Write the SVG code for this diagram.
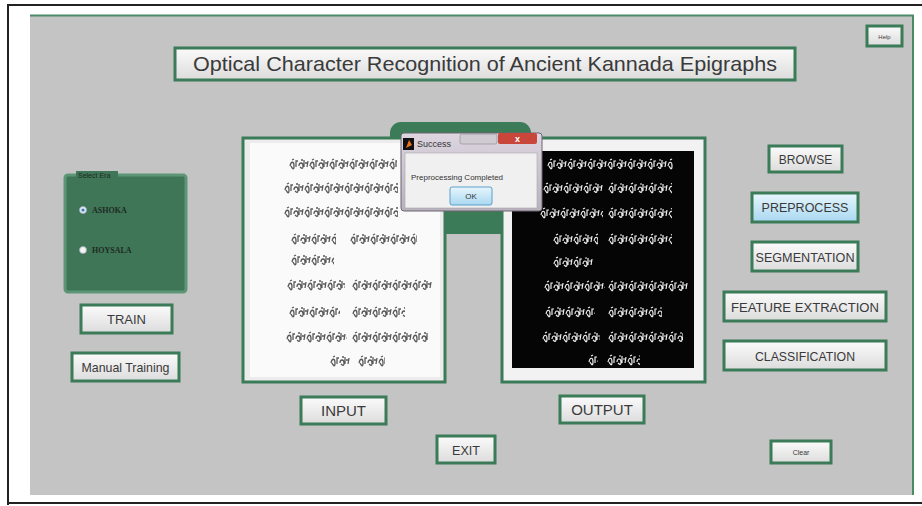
<svg xmlns="http://www.w3.org/2000/svg" width="922" height="506" viewBox="0 0 922 506">
<defs>
<style>
.btn{fill:url(#bg);stroke:#3b7b58;stroke-width:3}
.bt{font-family:"Liberation Sans",Arial,sans-serif;fill:#3a3a3a;text-anchor:middle}
.rl{font-family:"Liberation Serif","Times New Roman",serif;font-weight:bold;font-size:8px;fill:#1e2a22}
.gi{fill:url(#gl)}
.go{fill:url(#gw)}
</style>
<linearGradient id="bg" x1="0" y1="0" x2="0" y2="1"><stop offset="0" stop-color="#fbfbfb"/><stop offset="1" stop-color="#dcdcdc"/></linearGradient>
<linearGradient id="bb" x1="0" y1="0" x2="0" y2="1"><stop offset="0" stop-color="#e8f6fd"/><stop offset="1" stop-color="#a9d8f1"/></linearGradient>
<linearGradient id="tb" x1="0" y1="0" x2="0" y2="1"><stop offset="0" stop-color="#ddd6e0"/><stop offset="1" stop-color="#b9b1bd"/></linearGradient>
<pattern id="gl" width="20" height="13" patternUnits="userSpaceOnUse">
<path d="M1 9c1-5 4-5 4 0s-2 2-3 0M3 3l2-1M7 10V4h2M10 9c0-4 4-4 4 0s-2 2-3 1M12 3l2 0M15 3v7M16 6h3M18 10l1-6" fill="none" stroke="#3c3c3c" stroke-width="1.3" opacity="0.85"/>
</pattern>
<pattern id="gw" width="20" height="13" patternUnits="userSpaceOnUse">
<path d="M1 9c1-5 4-5 4 0s-2 2-3 0M3 3l2-1M7 10V4h2M10 9c0-4 4-4 4 0s-2 2-3 1M12 3l2 0M15 3v7M16 6h3M18 10l1-6" fill="none" stroke="#eeeeee" stroke-width="1.2"/>
</pattern>
</defs>
<rect width="922" height="506" fill="#ffffff"/>
<g id="frame">
<path d="M8 505V5H922M8 503H922" fill="none" stroke="#222" stroke-width="2"/>
<rect x="30" y="15" width="883" height="480" fill="#c4c4c4"/>
<path d="M30 15.5H913V495" fill="none" stroke="#4b8a66" stroke-width="2"/>
</g>
<g id="help"><rect class="btn" x="867" y="26" width="35" height="20"/><text class="bt" x="884.5" y="38.5" font-size="6">Help</text></g>
<g id="title"><rect class="btn" x="175" y="48" width="620" height="32"/><text class="bt" x="485" y="71" font-size="21" textLength="584" lengthAdjust="spacingAndGlyphs" fill="#222">Optical Character Recognition of Ancient Kannada Epigraphs</text></g>
<g id="select-era">
<rect x="65" y="175" width="121" height="117" fill="#3e7657" stroke="#5d9676" stroke-width="3" rx="3"/>
<rect x="76" y="171" width="42" height="8" fill="#3e7657"/>
<text x="78" y="178" font-family="Liberation Sans,Arial,sans-serif" font-size="7" fill="#1e2a22">Select Era</text>
<circle cx="83" cy="210" r="3.5" fill="#e8eef4" stroke="#9ab" stroke-width="0.8"/><circle cx="83" cy="210" r="1.6" fill="#3a78b8"/>
<text class="rl" x="92" y="213">ASHOKA</text>
<circle cx="83" cy="250" r="3.5" fill="#f2f2f2" stroke="#9ab" stroke-width="0.8"/>
<text class="rl" x="92" y="253">HOYSALA</text>
</g>
<g id="train"><rect class="btn" x="81" y="305" width="91" height="28"/><text class="bt" x="126.5" y="324" font-size="13">TRAIN</text></g>
<g id="manual"><rect class="btn" x="72" y="353" width="107" height="28"/><text class="bt" x="125.5" y="372" font-size="13" textLength="88" lengthAdjust="spacingAndGlyphs">Manual Training</text></g>
<g id="dialog-back"><rect x="390" y="122" width="141" height="112" rx="11" fill="#3c7b58"/></g>
<g id="input-panel">
<rect x="243" y="138" width="202" height="244" fill="#ececec" stroke="#3b7b58" stroke-width="3"/>
<rect x="250" y="143" width="190" height="234" fill="#fafafa"/>
<rect class="gi" width="108" height="13" transform="translate(289 157)"/>
<rect class="gi" width="114" height="13" transform="translate(284 181)"/>
<rect class="gi" width="114" height="13" transform="translate(284 205)"/>
<rect class="gi" width="45" height="13" transform="translate(291 232)"/><rect class="gi" width="67" height="13" transform="translate(350 232)"/>
<rect class="gi" width="43" height="13" transform="translate(291 253)"/>
<rect class="gi" width="58" height="13" transform="translate(287 278)"/><rect class="gi" width="80" height="13" transform="translate(352 278)"/>
<rect class="gi" width="51" height="13" transform="translate(289 305)"/><rect class="gi" width="53" height="13" transform="translate(352 305)"/>
<rect class="gi" width="61" height="13" transform="translate(286 330)"/><rect class="gi" width="76" height="13" transform="translate(352 330)"/>
<rect class="gi" width="20" height="13" transform="translate(330 354)"/><rect class="gi" width="27" height="13" transform="translate(358 354)"/>
</g>
<g id="output-panel">
<rect x="502" y="138" width="203" height="244" fill="#f2f2f2" stroke="#3b7b58" stroke-width="3"/>
<rect x="512" y="151" width="182" height="217" fill="#050505"/>
<rect class="go" width="126" height="13" transform="translate(547 157)"/>
<rect class="go" width="60" height="13" transform="translate(543 181)"/><rect class="go" width="64" height="13" transform="translate(608 181)"/>
<rect class="go" width="63" height="13" transform="translate(540 206)"/><rect class="go" width="64" height="13" transform="translate(608 206)"/>
<rect class="go" width="45" height="13" transform="translate(553 232)"/><rect class="go" width="64" height="13" transform="translate(608 232)"/>
<rect class="go" width="40" height="13" transform="translate(553 255)"/>
<rect class="go" width="61" height="13" transform="translate(544 279)"/><rect class="go" width="80" height="13" transform="translate(608 279)"/>
<rect class="go" width="50" height="13" transform="translate(545 305)"/><rect class="go" width="54" height="13" transform="translate(608 305)"/>
<rect class="go" width="58" height="13" transform="translate(542 330)"/><rect class="go" width="75" height="13" transform="translate(608 330)"/>
<rect class="go" width="10" height="13" transform="translate(588 353)"/><rect class="go" width="33" height="13" transform="translate(607 353)"/>
</g>
<g id="dialog">
<rect x="401" y="133" width="141" height="78" rx="3" fill="url(#tb)" stroke="#6b6570" stroke-width="1"/>
<rect x="403" y="138" width="11" height="12" fill="#111"/>
<path d="M406 148l3-8 3 5z" fill="#e8741c"/>
<text x="417" y="147" font-family="Liberation Sans,Arial,sans-serif" font-size="9" fill="#333">Success</text>
<rect x="460" y="134" width="37" height="10" rx="2" fill="#cfcbd2" stroke="#8a8590" stroke-width="0.6"/>
<rect x="498" y="133" width="39" height="11" rx="2" fill="#c8463a"/>
<text x="517.5" y="142" font-family="Liberation Sans,Arial,sans-serif" font-size="9" font-weight="bold" fill="#fff" text-anchor="middle">x</text>
<rect x="405" y="153" width="132" height="55" fill="#f0f0f0" stroke="#a8a3ab" stroke-width="0.6"/>
<text x="411" y="180" font-family="Liberation Sans,Arial,sans-serif" font-size="8" fill="#333">Preprocessing Completed</text>
<rect x="450" y="187" width="42" height="18" rx="2" fill="url(#bb)" stroke="#5c9fc9" stroke-width="1"/>
<text x="471" y="199" font-family="Liberation Sans,Arial,sans-serif" font-size="8" fill="#333" text-anchor="middle">OK</text>
</g>
<g id="browse"><rect class="btn" x="769" y="146" width="73" height="26"/><text class="bt" x="805.5" y="163.5" font-size="12">BROWSE</text></g>
<g id="preprocess"><rect x="752" y="193" width="106" height="29" fill="url(#bb)" stroke="#3b7b58" stroke-width="3"/><text class="bt" x="805" y="212" font-size="12.5" fill="#2f3f5f">PREPROCESS</text></g>
<g id="segmentation"><rect class="btn" x="752" y="242" width="106" height="29"/><text class="bt" x="805" y="261.5" font-size="12" textLength="99" lengthAdjust="spacingAndGlyphs">SEGMENTATION</text></g>
<g id="feature"><rect class="btn" x="724" y="292" width="162" height="29"/><text class="bt" x="805" y="311.5" font-size="12" textLength="148" lengthAdjust="spacingAndGlyphs">FEATURE EXTRACTION</text></g>
<g id="classification"><rect class="btn" x="724" y="341" width="162" height="29"/><text class="bt" x="805" y="361" font-size="12" textLength="100" lengthAdjust="spacingAndGlyphs">CLASSIFICATION</text></g>
<g id="input-btn"><rect class="btn" x="301" y="397" width="85" height="27"/><text class="bt" x="343.5" y="416" font-size="15" fill="#222">INPUT</text></g>
<g id="output-btn"><rect class="btn" x="560" y="396" width="84" height="27"/><text class="bt" x="602" y="415" font-size="15" fill="#222">OUTPUT</text></g>
<g id="exit"><rect class="btn" x="437" y="436" width="58" height="27"/><text class="bt" x="466" y="454.5" font-size="12" textLength="28" lengthAdjust="spacingAndGlyphs">EXIT</text></g>
<g id="clear"><rect class="btn" x="771" y="441" width="60" height="22"/><text class="bt" x="801" y="455" font-size="7">Clear</text></g>
<g id="connectors"/>
</svg>
